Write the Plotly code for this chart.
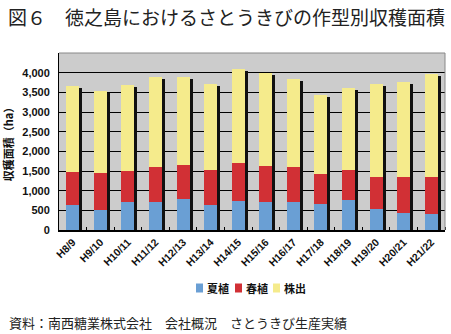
import plotly.graph_objects as go

categories = ["H8/9", "H9/10", "H10/11", "H11/12", "H12/13", "H13/14", "H14/15",
              "H15/16", "H16/17", "H17/18", "H18/19", "H19/20", "H20/21", "H21/22"]
natsu = [640, 510, 715, 715, 790, 640, 740, 715, 715, 665, 765, 535, 435, 410]       # 夏植
haru = [840, 945, 790, 895, 870, 890, 970, 920, 895, 765, 765, 820, 920, 945]       # 春植
kabude = [2190, 2085, 2170, 2270, 2220, 2170, 2375, 2350, 2220, 1990, 2070, 2345, 2400, 2600]  # 株出
series_names = ["夏植", "春植", "株出"]
series_colors = ["#6a9fd4", "#d13035", "#f5eb8c"]

W, H = 451, 334
L, R, T, B = 59, 6, 53, 104
PW, PH = W - L - R, H - T - B
YMAX = 4500
px_per_val = PH / YMAX

xs = list(range(len(categories)))
totals = [a + b + c for a, b, c in zip(natsu, haru, kabude)]
base_red = natsu
base_yel = [a + b for a, b in zip(natsu, haru)]

bw = 13 / (PW / len(categories))
shadow_dx = 3 / (PW / len(categories))
shadow_dy = 2 / px_per_val

fig = go.Figure()
fig.add_trace(go.Bar(x=[x + shadow_dx for x in xs], y=[t + shadow_dy for t in totals],
                     base=[-2 * shadow_dy] * len(xs), width=bw,
                     marker=dict(color="#111111", line=dict(width=0)),
                     showlegend=False, hoverinfo="skip"))
for vals, bases, name, col in zip([natsu, haru, kabude], [[0] * len(xs), base_red, base_yel],
                                  series_names, series_colors):
    fig.add_trace(go.Bar(x=xs, y=vals, base=bases, width=bw, name=name,
                         marker=dict(color=col, line=dict(width=0)), showlegend=False))

num_font = dict(family="Liberation Sans, Arial, sans-serif", size=11, color="#111", weight="bold")
jp = "Noto Sans CJK JP"

def px_x(p):
    return (p - L) / PW

def px_y(p):
    return (T + PH - p) / PH

shapes = [
    dict(type="line", xref="paper", yref="paper", x0=0, x1=1, y0=1, y1=1,
         line=dict(color="#888", width=1)),
    dict(type="line", xref="paper", yref="paper", x0=1, x1=1, y0=0, y1=1,
         line=dict(color="#888", width=1)),
]
annotations = [
    dict(text="資料：南西糖業株式会社　会社概況　さとうきび生産実績", xref="paper", yref="paper",
         x=px_x(7), y=px_y(322), xanchor="left", yanchor="middle",
         showarrow=False, font=dict(family=jp, size=13, color="#222")),
]
# legend (manual, compact)
leg_x = [196, 235, 273]
leg_y = 288
for lx, name, col in zip(leg_x, series_names, series_colors):
    shapes.append(dict(type="rect", xref="paper", yref="paper",
                       x0=px_x(lx), x1=px_x(lx + 7), y0=px_y(leg_y + 4.5), y1=px_y(leg_y - 4.5),
                       fillcolor=col, line=dict(width=0)))
    annotations.append(dict(text=name, xref="paper", yref="paper", x=px_x(lx + 9), y=px_y(leg_y),
                            xanchor="left", yanchor="middle", showarrow=False,
                            font=dict(family=jp, size=11, color="#111", weight="bold")))

fig.update_layout(
    width=W, height=H, margin=dict(l=L, r=R, t=T, b=B),
    paper_bgcolor="white", plot_bgcolor="#cccccc",
    barmode="overlay", bargap=0,
    showlegend=False,
    xaxis=dict(range=[-0.5, len(categories) - 0.5], tickmode="array", tickvals=xs,
               ticktext=categories, tickangle=-45, ticks="", showgrid=False,
               showline=True, linecolor="#000", linewidth=2,
               tickfont=dict(family="Liberation Sans, Arial, sans-serif", size=10.5, color="#111", weight="bold"),
               minor=dict(tickmode="array", tickvals=[x + 0.5 for x in xs[:-1]] + [len(xs) - 0.5],
                          ticks="inside", ticklen=3, tickcolor="#000", tickwidth=1),
               zeroline=False),
    yaxis=dict(range=[0, YMAX], tickmode="array", tickvals=list(range(0, 4001, 500)),
               ticktext=[f"{v:,}" for v in range(0, 4001, 500)],
               showgrid=True, gridcolor="#000", gridwidth=1,
               showline=True, linecolor="#000", linewidth=1, zeroline=False,
               tickfont=num_font, ticks="", ticklabelstandoff=6,
               title=dict(text="収穫面積（ha）", font=dict(family=jp, size=11, color="#111", weight="bold"),
                          standoff=8)),
    title=dict(text="図６　徳之島におけるさとうきびの作型別収穫面積", x=8 / W, xanchor="left",
               xref="container", y=1 - 18 / H, yref="container", yanchor="middle",
               font=dict(family=jp, size=19, color="#222")),
    shapes=shapes,
    annotations=annotations,
)

fig.write_html("out.html")
